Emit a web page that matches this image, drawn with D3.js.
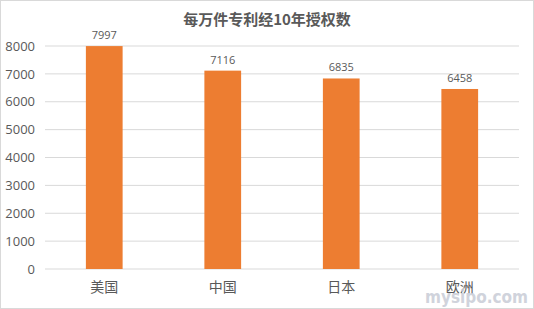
<!DOCTYPE html>
<html>
<head>
<meta charset="utf-8">
<script src="https://cdn.jsdelivr.net/npm/d3@7"></script>
<style>
  body { margin: 0; background: #fff; }
  svg { display: block; font-family: "Noto Sans CJK SC", "DejaVu Sans", sans-serif; }
</style>
</head>
<body>
<div id="chart"></div>
<script>
const categories = ['美国', '中国', '日本', '欧洲'];
const values = [7997, 7116, 6835, 6458];
const yTicks = [0, 1000, 2000, 3000, 4000, 5000, 6000, 7000, 8000];
const title = '每万件专利经10年授权数';

const width = 534, height = 309;
const margin = { top: 46, right: 15, bottom: 40, left: 45 };

const svg = d3.select('#chart').append('svg')
    .attr('width', width)
    .attr('height', height);

// outer frame
svg.append('rect')
    .attr('x', 0.5).attr('y', 0.5)
    .attr('width', width - 1).attr('height', height - 1)
    .attr('fill', '#fff')
    .attr('stroke', '#d9d9d9');

const xScale = d3.scaleBand()
    .domain(categories)
    .range([margin.left, width - margin.right])
    .paddingInner(0.69)
    .paddingOuter(0.345);

const yScale = d3.scaleLinear()
    .domain([0, 8000])
    .range([height - margin.bottom, margin.top]);

// gridlines
svg.append('g')
    .selectAll('line')
    .data(yTicks)
    .enter().append('line')
    .attr('x1', margin.left)
    .attr('x2', width - margin.right)
    .attr('y1', d => yScale(d))
    .attr('y2', d => yScale(d))
    .attr('stroke', '#d9d9d9')
    .attr('stroke-width', 1);

// y axis labels
const yAxis = d3.axisLeft(yScale).tickValues(yTicks).tickFormat(d3.format('d')).tickSize(0).tickPadding(10);
const yg = svg.append('g')
    .attr('transform', `translate(${margin.left},0)`)
    .call(yAxis);
yg.select('.domain').remove();
yg.selectAll('text')
    .attr('fill', '#595959')
    .style('font-size', '13px')
    .style('font-family', '"Open Sans", "DejaVu Sans", sans-serif');

// bars
svg.selectAll('.bar')
    .data(values)
    .enter().append('rect')
    .attr('class', 'bar')
    .attr('x', (d, i) => xScale(categories[i]))
    .attr('width', xScale.bandwidth())
    .attr('y', d => yScale(d))
    .attr('height', d => yScale(0) - yScale(d))
    .attr('fill', '#ED7D31');

// data labels
svg.selectAll('.label')
    .data(values)
    .enter().append('text')
    .attr('x', (d, i) => xScale(categories[i]) + xScale.bandwidth() / 2)
    .attr('y', d => yScale(d) - 7)
    .attr('text-anchor', 'middle')
    .attr('fill', '#595959')
    .style('font-size', '11px')
    .style('font-family', '"Open Sans", "DejaVu Sans", sans-serif')
    .text(d => d);

// x axis labels
const xAxis = d3.axisBottom(xScale).tickSize(0).tickPadding(13);
const xg = svg.append('g')
    .attr('transform', `translate(0,${yScale(0)})`)
    .call(xAxis);
xg.select('.domain').remove();
xg.selectAll('text')
    .attr('fill', '#595959')
    .style('font-size', '14px')
    .style('font-family', '"Noto Sans CJK SC", sans-serif');

// title
svg.append('text')
    .attr('x', width / 2)
    .attr('y', 25)
    .attr('text-anchor', 'middle')
    .attr('fill', '#595959')
    .style('font-size', '15px')
    .style('font-weight', 'bold')
    .text(title);

// watermark
svg.append('text')
    .attr('x', 528)
    .attr('y', 303)
    .attr('text-anchor', 'end')
    .attr('fill', '#c8ccd6')
    .attr('opacity', 0.85)
    .style('font-size', '17px')
    .style('font-weight', 'bold')
    .style('font-family', '"DejaVu Sans Condensed", "DejaVu Sans", sans-serif')
    .text('mysipo.com');
</script>
</body>
</html>
